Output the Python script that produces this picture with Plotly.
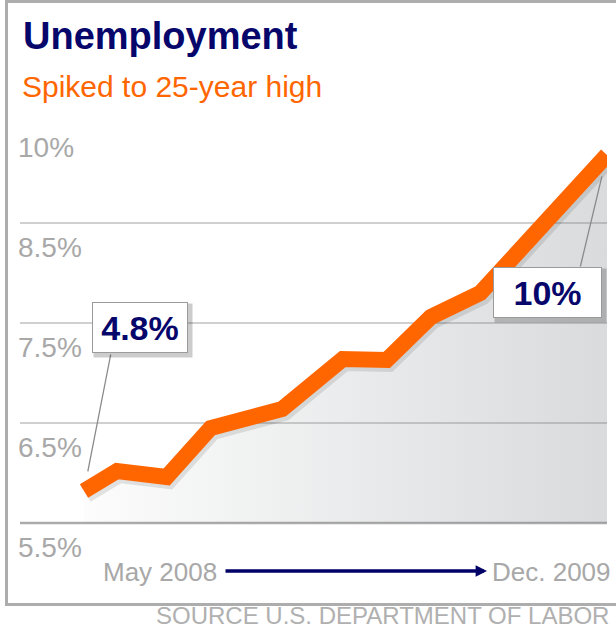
import plotly.graph_objects as go

# ---- data -------------------------------------------------------------
months_since_may_2008 = [0, 1.2, 3.0, 4.6, 7.2, 9.4, 11.0, 12.6, 14.4, 19.0]
rate = [5.82, 6.02, 5.96, 6.45, 6.64, 7.14, 7.13, 7.56, 7.80, 9.18]

y_ticks = [5.5, 6.5, 7.5, 8.5, 9.5]
y_tick_labels = ["5.5%", "6.5%", "7.5%", "8.5%", "10%"]

callout_labels = ["4.8%", "10%"]
start_label = "May 2008"
end_label = "Dec. 2009"
title_text = "Unemployment"
subtitle_text = "Spiked to 25-year high"
source_text = "SOURCE U.S. DEPARTMENT OF LABOR"

# ---- styling ----------------------------------------------------------
W, H = 616, 630
PLOT_L, PLOT_R, PLOT_T, PLOT_B = 20, 607, 98, 580
NAVY = "#06066b"
ORANGE = "#ff6600"
GREY_TXT = "#a8a8a8"
SANS = "Liberation Sans, Arial, sans-serif"

X_RANGE = [-2.325, 19.0]
Y_RANGE = [4.93, 9.75]


def px_x(p):
    return (p - PLOT_L) / (PLOT_R - PLOT_L)


def px_y(p):
    return (PLOT_B - p) / (PLOT_B - PLOT_T)


fig = go.Figure()

# baseline for the shaded area
fig.add_trace(go.Scatter(
    x=months_since_may_2008, y=[y_ticks[0]] * len(months_since_may_2008),
    mode="lines", line=dict(width=0), hoverinfo="skip", showlegend=False))

# shaded area under the series
fig.add_trace(go.Scatter(
    x=months_since_may_2008, y=rate, mode="lines", line=dict(width=0),
    fill="tonexty",
    fillgradient=dict(type="horizontal",
                      colorscale=[[0, "rgba(120,125,130,0.02)"],
                                  [1, "rgba(120,125,130,0.28)"]]),
    hoverinfo="skip", showlegend=False))

# soft drop shadow of the line
fig.add_trace(go.Scatter(
    x=[m + 0.08 for m in months_since_may_2008], y=[r - 0.035 for r in rate],
    mode="lines", line=dict(color="rgba(0,0,0,0.10)", width=17),
    hoverinfo="skip", showlegend=False))

# the series line
fig.add_trace(go.Scatter(
    x=months_since_may_2008, y=rate, mode="lines",
    line=dict(color=ORANGE, width=16), showlegend=False))

annotations = []

# title block
annotations.append(dict(xref="paper", yref="paper", x=px_x(21), y=px_y(36),
                        xanchor="left", yanchor="middle", showarrow=False,
                        text="<b>%s</b>" % title_text,
                        font=dict(family=SANS, size=38, color=NAVY)))
annotations.append(dict(xref="paper", yref="paper", x=px_x(20), y=px_y(86),
                        xanchor="left", yanchor="middle", showarrow=False,
                        text=subtitle_text,
                        font=dict(family=SANS, size=30, color=ORANGE)))

# callouts: pointer, box shadow, box
callouts = [
    dict(i=0, text=callout_labels[0], box=(140, 327.5), size=(96, 51), tail=(111, 353), standoff=20),
    dict(i=-1, text=callout_labels[1], box=(547.5, 292.5), size=(109, 51), tail=(580, 268), standoff=22),
]
for c in callouts:
    x0 = months_since_may_2008[c["i"]]
    y0 = rate[c["i"]]
    hx = PLOT_L + (x0 - X_RANGE[0]) / (X_RANGE[1] - X_RANGE[0]) * (PLOT_R - PLOT_L)
    hy = PLOT_B - (y0 - Y_RANGE[0]) / (Y_RANGE[1] - Y_RANGE[0]) * (PLOT_B - PLOT_T)
    bx, by = c["box"]
    bw, bh = c["size"]
    annotations.append(dict(x=x0, y=y0, xref="x", yref="y", text="",
                            showarrow=True, arrowhead=0, arrowwidth=1.3,
                            arrowcolor="#8a8a8a", standoff=c["standoff"],
                            ax=c["tail"][0] - hx, ay=c["tail"][1] - hy))
    annotations.append(dict(x=x0, y=y0, xref="x", yref="y", showarrow=False,
                            text="", width=bw, height=bh,
                            bgcolor="rgba(0,0,0,0.20)",
                            xshift=bx - hx + 3, yshift=hy - by - 3))
    annotations.append(dict(x=x0, y=y0, xref="x", yref="y", showarrow=False,
                            text="<b>%s</b>" % c["text"], width=bw - 2, height=bh - 2,
                            bgcolor="white", bordercolor="#9a9a9a", borderwidth=1,
                            borderpad=0, align="center", valign="middle",
                            font=dict(family=SANS, size=34, color=NAVY),
                            xshift=bx - hx, yshift=hy - by))

# time-span arrow under the chart
annotations.append(dict(xref="paper", yref="paper", x=px_x(487), y=px_y(571),
                        ax=224 - 487, ay=0, text="", showarrow=True,
                        arrowhead=2, arrowsize=0.65, arrowwidth=3.5,
                        arrowcolor="#000066"))
annotations.append(dict(xref="paper", yref="paper", x=px_x(219), y=px_y(572),
                        xanchor="right", yanchor="middle", showarrow=False,
                        text=start_label,
                        font=dict(family=SANS, size=26, color=GREY_TXT)))
annotations.append(dict(xref="paper", yref="paper", x=px_x(490), y=px_y(572),
                        xanchor="left", yanchor="middle", showarrow=False,
                        text=end_label,
                        font=dict(family=SANS, size=26, color=GREY_TXT)))
annotations.append(dict(xref="paper", yref="paper", x=px_x(611), y=px_y(615),
                        xanchor="right", yanchor="middle", showarrow=False,
                        text=source_text,
                        font=dict(family=SANS, size=24, color="#b0b0b0")))

shapes = []
# light grid lines at the inner ticks
for v in y_ticks[1:4]:
    shapes.append(dict(type="line", xref="paper", yref="y", x0=0, x1=1,
                       y0=v, y1=v, line=dict(color="#d0d0d0", width=2),
                       layer="below"))
# darker base line at the lowest tick
shapes.append(dict(type="line", xref="paper", yref="y", x0=0, x1=1,
                   y0=y_ticks[0], y1=y_ticks[0],
                   line=dict(color="#ababab", width=2.5), layer="below"))
# frame
shapes.append(dict(type="path", xref="paper", yref="paper",
                   path="M %f,%f L %f,%f L %f,%f L %f,%f" % (
                       px_x(618), px_y(1.5), px_x(6.5), px_y(1.5),
                       px_x(6.5), px_y(604.5), px_x(618), px_y(604.5)),
                   line=dict(color="#adadad", width=3)))

fig.update_layout(
    width=W, height=H,
    margin=dict(l=PLOT_L, r=W - PLOT_R, t=PLOT_T, b=H - PLOT_B),
    paper_bgcolor="white", plot_bgcolor="white",
    showlegend=False,
    annotations=annotations,
    shapes=shapes,
    xaxis=dict(range=X_RANGE, showgrid=False, zeroline=False,
               showticklabels=False, showline=False, fixedrange=True),
    yaxis=dict(range=Y_RANGE, tickvals=y_ticks, ticktext=y_tick_labels,
               showgrid=False, zeroline=False, showline=False, ticks="",
               ticklabelposition="inside", ticklabelshift=24,
               ticklabelstandoff=-5,
               tickfont=dict(family=SANS, size=28, color=GREY_TXT),
               fixedrange=True),
)

fig.write_html("out.html")
